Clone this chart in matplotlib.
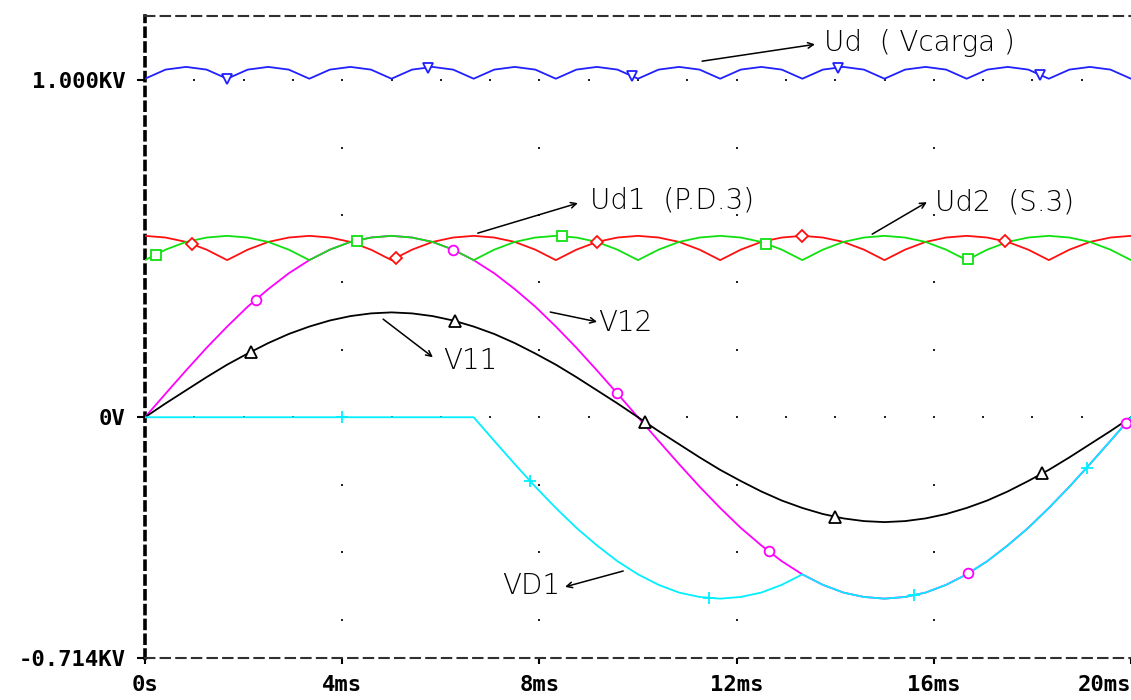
import matplotlib
matplotlib.use('Agg')
import matplotlib.pyplot as plt
import numpy as np

# Simulación del rectificador trifásico: tensiones en V, tiempo en ms
t_ms = np.linspace(0, 20, 49)

v11 = [0, 41, 80, 119, 156, 189, 220, 247, 269, 287, 300, 308, 311,
       308, 300, 287, 269, 247, 220, 189, 156, 119, 80, 41, 0,
       -41, -80, -119, -156, -189, -220, -247, -269, -287, -300, -308, -311,
       -308, -300, -287, -269, -247, -220, -189, -156, -119, -80, -41, 0]

v12 = [0, 70, 139, 206, 269, 328, 380, 427, 466, 497, 520, 533, 538,
       533, 520, 497, 466, 427, 380, 328, 269, 206, 139, 70, 0,
       -70, -139, -206, -269, -328, -380, -427, -466, -497, -520, -533, -538,
       -533, -520, -497, -466, -427, -380, -328, -269, -206, -139, -70, 0]

ud1 = [538, 533, 520, 497, 466, 497, 520, 533,
       538, 533, 520, 497, 466, 497, 520, 533,
       538, 533, 520, 497, 466, 497, 520, 533,
       538, 533, 520, 497, 466, 497, 520, 533,
       538, 533, 520, 497, 466, 497, 520, 533,
       538, 533, 520, 497, 466, 497, 520, 533, 538]

ud2 = [466, 497, 520, 533, 538, 533, 520, 497,
       466, 497, 520, 533, 538, 533, 520, 497,
       466, 497, 520, 533, 538, 533, 520, 497,
       466, 497, 520, 533, 538, 533, 520, 497,
       466, 497, 520, 533, 538, 533, 520, 497,
       466, 497, 520, 533, 538, 533, 520, 497, 466]

ud = [1004, 1031, 1039, 1031, 1004, 1031, 1039, 1031,
      1004, 1031, 1039, 1031, 1004, 1031, 1039, 1031,
      1004, 1031, 1039, 1031, 1004, 1031, 1039, 1031,
      1004, 1031, 1039, 1031, 1004, 1031, 1039, 1031,
      1004, 1031, 1039, 1031, 1004, 1031, 1039, 1031,
      1004, 1031, 1039, 1031, 1004, 1031, 1039, 1031, 1004]

vd1 = [0, 0, 0, 0, 0, 0, 0, 0, 0, 0, 0, 0, 0, 0, 0, 0, 0,
       -70, -139, -206, -269, -328, -380, -427, -466,
       -497, -520, -533, -538, -533, -520, -497, -466,
       -497, -520, -533, -538, -533, -520, -497, -466,
       -427, -380, -328, -269, -206, -139, -70, 0]

# Instantes (ms) donde van los símbolos de cada traza
ud_mk = [1.66, 5.74, 9.88, 14.05, 18.15]
ud1_mk = [0.95, 5.09, 9.17, 13.33, 17.44]
ud2_mk = [0.22, 4.3, 8.46, 12.6, 16.7]
v12_mk = [2.25, 6.25, 9.57, 12.66, 16.7, 19.9]
v11_mk = [2.15, 6.29, 10.14, 14.0, 18.2]
vd1_mk = [4.0, 7.81, 11.44, 15.6, 19.1]

x_ticks = [0, 4, 8, 12, 16, 20]
x_labels = ['0s', '4ms', '8ms', '12ms', '16ms', '20ms']
y_ticks = [1000, 0, -714]
y_labels = ['1.000KV', '0V', '-0.714KV']

W, H = 1131, 700
fig = plt.figure(figsize=(W / 100, H / 100), dpi=100)
ax = fig.add_axes([145 / W, 1 - 658 / H, 1 - 145 / W, (658 - 16) / H])
ax.set_xlim(0, 20)
ax.set_ylim(-714, 1190)

# Rejilla de puntos estilo PSpice
for xv in [4, 8, 12, 16]:
    ys = np.arange(-600, 1001, 200)
    ax.plot([xv] * len(ys), ys, ls='none', marker='s', ms=1.6, color='#222222', mew=0)
for yv in [0, 1000]:
    xs = np.arange(1, 20)
    ax.plot(xs, [yv] * len(xs), ls='none', marker='s', ms=1.6, color='#222222', mew=0)

traces = [
    (v12, v12_mk, '#ff00ff', 'o', 7),
    (v11, v11_mk, '#000000', '^', 8),
    (ud1, ud1_mk, '#ff1010', 'D', 6),
    (ud2, ud2_mk, '#10e010', 's', 7),
    (ud, ud_mk, '#2020ff', 'v', 7),
    (vd1, vd1_mk, '#00f0ff', '+', 9),
]
for serie, mk_t, col, mk, ms in traces:
    ax.plot(t_ms, serie, color=col, lw=1.3, zorder=3)
    ax.plot(mk_t, np.interp(mk_t, t_ms, serie), ls='none', marker=mk, ms=ms,
            mfc='white' if mk != '+' else col, mec=col, mew=1.3, zorder=4)

# Marco: eje izquierdo grueso discontinuo, superior e inferior discontinuos
ax.spines['right'].set_visible(False)
ax.spines['left'].set_linewidth(2.6)
ax.spines['left'].set_linestyle((0, (2.2, 1.9)))
ax.spines['left'].set_color('black')
for s in ['top', 'bottom']:
    ax.spines[s].set_linewidth(1.5)
    ax.spines[s].set_linestyle((0, (4.5, 3)))
    ax.spines[s].set_color('#303030')

ax.set_xticks(x_ticks)
ax.set_xticklabels(x_labels)
ax.set_yticks(y_ticks)
ax.set_yticklabels(y_labels)
tick_font = dict(family='DejaVu Sans Mono', weight='bold', size=16)
for lb in ax.get_xticklabels() + ax.get_yticklabels():
    lb.set_fontproperties(matplotlib.font_manager.FontProperties(**tick_font))
ax.get_xticklabels()[-1].set_horizontalalignment('right')
ax.tick_params(axis='y', direction='out', length=6, width=1.5, pad=8)
ax.tick_params(axis='x', direction='out', length=4, width=1.5, pad=8)

# Etiquetas con flecha de cada traza
ann_font = dict(family='DejaVu Sans', weight=200, size=20, color='black')
arrow = dict(arrowstyle='->', color='black', lw=1.1, shrinkA=0, shrinkB=0)
notas = [
    ('Ud  ( Vcarga )', (11.30, 1056), (13.59, 1106), (13.77, 1110), 'left'),
    ('Ud1  (P.D.3)', (6.75, 546), (8.78, 635), (9.03, 644), 'left'),
    ('Ud2  (S.3)', (14.75, 543), (15.86, 638), (16.02, 638), 'left'),
    ('V12', (8.22, 312), (9.17, 283), (9.19, 280), 'left'),
    ('V11', (4.83, 291), (5.84, 178), (6.04, 167), 'left'),
    ('VD1', (9.70, -456), (8.52, -503), (8.42, -500), 'right'),
]
for txt, p0, p1, pt, ha in notas:
    ax.annotate('', xy=p1, xytext=p0, arrowprops=arrow, zorder=5)
    ax.text(pt[0], pt[1], txt, ha=ha, va='center', **ann_font)

fig.savefig('out.png', dpi=100)
